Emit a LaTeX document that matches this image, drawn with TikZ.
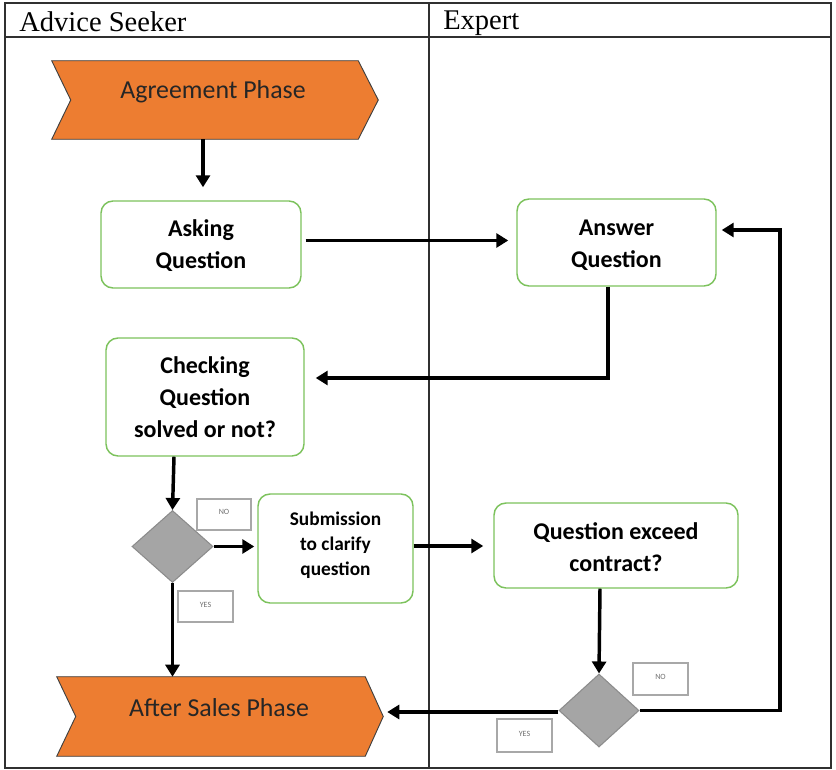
\documentclass[tikz,border=0pt]{standalone}
\usepackage{fontspec}
\setmainfont{Liberation Serif}
\newfontfamily\boxfont{Carlito}
\usetikzlibrary{arrows.meta,calc,shapes.geometric,backgrounds}
\definecolor{phaseorange}{HTML}{ED7D31}
\definecolor{boxgreen}{HTML}{7CC25C}
\definecolor{diagray}{HTML}{A5A5A5}
\definecolor{diaedge}{HTML}{8C8C8C}
\definecolor{tagedge}{HTML}{A8A8A8}
\definecolor{tagtext}{HTML}{707070}
\definecolor{frame}{HTML}{303030}
% shift text vertically without changing the space it occupies
\newcommand\nudge[2]{\raisebox{#1}[\height][\depth]{#2}}
\newcommand\lines[1]{\begin{tabular}{@{}c@{}}#1\end{tabular}}
\tikzset{
  lane/.style={draw=frame,line width=1.2pt},
  stepbox/.style={draw=boxgreen,line width=1.1pt,rounded corners=9pt,fill=white,
    align=center,font=\boxfont\bfseries\fontsize{18}{24}\selectfont,inner sep=0pt},
  smallstep/.style={stepbox,font=\boxfont\bfseries\fontsize{14.5}{18.75}\selectfont},
  phase/.style={inner sep=0pt,font=\boxfont\fontsize{19.4}{23}\selectfont,text=black!85},
  chev/.style={fill=phaseorange,draw=black!75,line width=0.7pt},
  decision/.style={diamond,fill=diagray,draw=diaedge,line width=0.8pt,inner sep=0pt,aspect=1},
  tag/.style={draw=tagedge,line width=0.8pt,inner sep=0pt,
    font=\boxfont\fontsize{6}{7}\selectfont,text=tagtext},
  flow/.style={line width=2.6pt,-{Triangle[length=9pt,width=10.5pt]}},
  header/.style={anchor=west,font=\fontsize{21.4}{24}\selectfont,inner sep=0pt}
}
\begin{document}
\begin{tikzpicture}[x=0.75pt,y=-0.75pt]
\useasboundingbox (0,0) rectangle (836,770);
% swimlane frame
\draw[lane] (5,3) rectangle (831,768);
\draw[lane] (5,37) -- (831,37);
\draw[lane] (429,3) -- (429,768);
\node[header] (seeker) at (19,22) {Advice Seeker};
\node[header] (expert) at (443,23) {Expert};

% phases
\node[phase,minimum width=306*0.75pt,minimum height=78*0.75pt] (agree) at (205,100)
  {\nudge{6pt}{\hspace{12pt}Agreement Phase}};
\node[phase,minimum width=308*0.75pt,minimum height=79*0.75pt] (after) at (211,716.5)
  {\nudge{6.5pt}{\hspace{12pt}After Sales Phase}};
\begin{pgfonlayer}{background}
  \draw[chev] (agree.north west) -- (agree.north east) -- ($(agree.east)+(20,0)$)
    -- (agree.south east) -- (agree.south west) -- ($(agree.west)+(19,0)$) -- cycle;
  \draw[chev] (after.north west) -- (after.north east) -- ($(after.east)+(18,0)$)
    -- (after.south east) -- (after.south west) -- ($(after.west)+(19,0)$) -- cycle;
\end{pgfonlayer}
\coordinate (aftertip) at ($(after.east)+(22,0)$);

% process steps
\node[stepbox,minimum width=200*0.75pt,minimum height=87*0.75pt] (ask) at (201,244.5)
  {\nudge{-1.5pt}{\lines{Asking\\Question}}};
\node[stepbox,minimum width=199*0.75pt,minimum height=87*0.75pt] (ans) at (616.5,242.5)
  {\nudge{-2.2pt}{\lines{Answer\\Question}}};
\node[stepbox,minimum width=198*0.75pt,minimum height=118*0.75pt] (chk) at (205,397)
  {\nudge{-1.8pt}{\lines{Checking\\Question\\solved or not?}}};
\node[smallstep,minimum width=155*0.75pt,minimum height=109*0.75pt] (sub) at (335.5,548.5)
  {\nudge{2.2pt}{\lines{Submission\\to clarify\\question}}};
\node[stepbox,minimum width=244*0.75pt,minimum height=85*0.75pt] (qe) at (616,545.5)
  {\nudge{-2.5pt}{\lines{Question exceed\\contract?}}};

% decisions
\node[decision,minimum width=81*0.75pt,minimum height=72*0.75pt] (d1) at (172.5,546.5) {};
\node[decision,minimum width=80*0.75pt,minimum height=73*0.75pt] (d2) at (599,710.5) {};

% answer tags
\node[tag,minimum width=54*0.75pt,minimum height=31*0.75pt] (no1) at (224,514.5) {\nudge{2pt}{NO}};
\node[tag,minimum width=55*0.75pt,minimum height=31*0.75pt] (yes1) at (205.5,606.5) {\nudge{1.5pt}{YES}};
\node[tag,minimum width=55*0.75pt,minimum height=32*0.75pt] (no2) at (660.5,679) {\nudge{1.5pt}{NO}};
\node[tag,minimum width=55*0.75pt,minimum height=33*0.75pt] (yes2) at (524.5,735.5) {\nudge{1.5pt}{YES}};

% connector anchor points
\coordinate (agreeout) at ($(agree.south)+(-2,0)$);
\coordinate (askout) at ($(ask.east)+(4,-4)$);
\coordinate (ansout) at ($(ans.south)+(-8.5,0)$);
\coordinate (chkin) at ($(chk.east)+(11,-19)$);
\coordinate (chkout) at ($(chk.south)+(-31,0)$);
\coordinate (subout) at ($(sub.east)+(0,-2.5)$);
\coordinate (qeout) at ($(qe.south)+(-16,0)$);
\coordinate (d2out) at ($(d2.west)+(0,1.5)$);
\coordinate (rail) at (780,230);

% connectors
\draw[flow] (agreeout) -- ($(agreeout |- ask.north)+(0,-13)$);
\draw[flow] (askout) -- ($(askout -| ans.west)+(-8,0)$);
\draw[flow] (ansout) |- (chkin);
\draw[flow] (chkout) -- (d1.north);
\draw[flow] (d1.east) -- ($(d1.east -| sub.west)+(-3,0)$);
\draw[flow] (d1.south) -- (d1.south |- after.north);
\draw[flow] (subout) -- ($(subout -| qe.west)+(-10,0)$);
\draw[flow] (qeout) -- (d2.north);
\draw[flow] (d2out) -- (d2out -| aftertip);
\draw[flow] (d2.east) -| (rail) -- ($(rail -| ans.east)+(5,0)$);
\end{tikzpicture}
\end{document}
